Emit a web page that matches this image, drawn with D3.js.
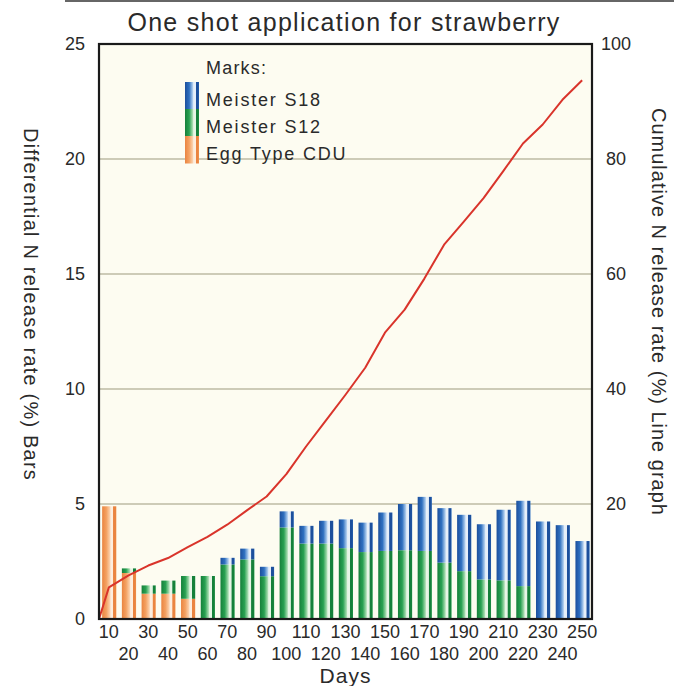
<!DOCTYPE html>
<html>
<head>
<meta charset="utf-8">
<script src="https://cdn.jsdelivr.net/npm/d3@7"></script>
<style>
  html, body { margin: 0; padding: 0; background: #ffffff; }
  svg { display: block; }
  text { font-family: "Liberation Sans", Arial, sans-serif; fill: #2a2a2a; }
</style>
</head>
<body>
<svg id="chart" width="674" height="686"></svg>
<script>
// ---- data ----
const days = [10,20,30,40,50,60,70,80,90,100,110,120,130,140,150,160,170,180,190,200,210,220,230,240,250];
const eggTypeCDU = [4.9,2.0,1.1,1.1,0.88,0,0,0,0,0,0,0,0,0,0,0,0,0,0,0,0,0,0,0,0];
const meisterS12 = [0,0.2,0.36,0.57,0.99,1.87,2.37,2.59,1.86,3.98,3.28,3.28,3.08,2.91,2.96,2.99,2.96,2.45,2.08,1.72,1.68,1.43,0,0,0];
const meisterS18 = [0,0,0,0,0,0,0.29,0.47,0.41,0.70,0.77,0.99,1.25,1.28,1.67,2.01,2.35,2.37,2.45,2.40,3.07,3.71,4.24,4.08,3.39];
const cumDays = [0,5,15,25,35,45,55,65,75,85,95,105,115,125,135,145,155,165,175,185,195,205,215,225,235,245];
const cumPct  = [0,5.5,7.6,9.3,10.6,12.5,14.3,16.4,18.9,21.3,25.2,30.0,34.5,39.0,43.7,49.8,53.8,59.2,65.1,69.1,73.2,77.9,82.7,86.0,90.3,93.7];
const leftTicks = [0,5,10,15,20,25];
const rightTicks = [20,40,60,80,100];
const gridTicks = [5,10,15,20];
const seriesNames = ["Egg Type CDU","Meister S12","Meister S18"];
const legendOrder = ["Meister S18","Meister S12","Egg Type CDU"];

const rows = days.map((d,i) => ({day: d, "Egg Type CDU": eggTypeCDU[i], "Meister S12": meisterS12[i], "Meister S18": meisterS18[i]}));

// ---- layout ----
const L = 99, R = 592, T = 44, B = 619;
const svg = d3.select("#chart");

const palette = {
  "Meister S18": {dark:"#1c4f9c", mid:"#2f70c0", light:"#a9c9ec", white:"#e6eff9"},
  "Meister S12": {dark:"#15803a", mid:"#29a152", light:"#a4dbad", white:"#e7f5e6"},
  "Egg Type CDU": {dark:"#ea8440", mid:"#f4a263", light:"#fbcfaa", white:"#fdeedf"}
};
const gid = n => "g_" + n.replace(/\W/g,"");
const defs = svg.append("defs");
seriesNames.forEach(n => {
  const c = palette[n];
  const g = defs.append("linearGradient").attr("id", gid(n)).attr("x1","0").attr("x2","1").attr("y1","0").attr("y2","0");
  [[0,c.dark],[0.3,c.mid],[0.54,c.light],[0.62,c.white],[0.76,c.white],[0.8,c.dark],[0.95,c.dark],[1,c.mid]]
    .forEach(([o,col]) => g.append("stop").attr("offset", o).attr("stop-color", col));
});

const xb = d3.scaleBand().domain(days).range([L, R]).padding(0);
const x = d3.scaleLinear().domain([0, 250]).range([L, R]);
const yL = d3.scaleLinear().domain([0, 25]).range([B, T]);
const yR = d3.scaleLinear().domain([0, 100]).range([B, T]);

// decorative top rule
svg.append("line").attr("x1", 65).attr("x2", 674).attr("y1", 1).attr("y2", 1)
  .attr("stroke", "#666").attr("stroke-width", 2);

// title
svg.append("text").attr("x", 344).attr("y", 31).attr("text-anchor","middle")
  .style("font-size","25px").style("letter-spacing","1.3px")
  .text("One shot application for strawberry");

// plot background
svg.append("rect").attr("x", L).attr("y", T).attr("width", R-L).attr("height", B-T).attr("fill", "#fdfcf1");

// grid
svg.append("g").selectAll("line").data(gridTicks).join("line")
  .attr("x1", L).attr("x2", R).attr("y1", d => yL(d)).attr("y2", d => yL(d))
  .attr("stroke", "#bdbba3").attr("stroke-width", 1.5);

// bars
const stack = d3.stack().keys(seriesNames)(rows);
const bw = xb.bandwidth();
svg.append("g").selectAll("g").data(stack).join("g")
  .attr("fill", s => `url(#${gid(s.key)})`)
  .selectAll("rect").data(s => s).join("rect")
  .attr("x", d => xb(d.data.day) + bw*0.16)
  .attr("width", bw*0.72)
  .attr("y", d => yL(d[1]))
  .attr("height", d => Math.max(0, yL(d[0]) - yL(d[1])));

// legend
const lg = svg.append("g");
lg.append("text").attr("x", 206).attr("y", 74).style("font-size","18px").style("letter-spacing","1.2px").text("Marks:");
const legY = d3.scaleBand().domain(legendOrder).range([82, 163]);
lg.selectAll("rect").data(legendOrder).join("rect")
  .attr("x", 185).attr("width", 14)
  .attr("y", d => legY(d)).attr("height", legY.bandwidth()+0.5)
  .attr("fill", d => `url(#${gid(d)})`);
lg.selectAll("text.item").data(legendOrder).join("text").attr("class","item")
  .attr("x", 206).attr("y", d => legY(d) + legY.bandwidth()/2 + 10)
  .style("font-size","18px").style("letter-spacing","1.8px").text(d => d);

// cumulative line
const line = d3.line().x((d,i) => x(cumDays[i])).y(d => yR(d));
svg.append("path").datum(cumPct).attr("d", line)
  .attr("fill","none").attr("stroke","#d9342b").attr("stroke-width", 2).attr("stroke-linejoin","round");

// frame
svg.append("rect").attr("x", L).attr("y", T).attr("width", R-L).attr("height", B-T)
  .attr("fill","none").attr("stroke","#1a1a1a").attr("stroke-width", 2.2);

// left axis
const axL = svg.append("g").attr("transform", `translate(${L},0)`)
  .call(d3.axisLeft(yL).tickValues(leftTicks).tickSize(0).tickPadding(14));
axL.select(".domain").remove();
axL.selectAll("text").style("font-size","18px").attr("fill","#2a2a2a").style("font-family","'Liberation Sans', Arial, sans-serif");

// right axis
const axR = svg.append("g").attr("transform", `translate(${R},0)`)
  .call(d3.axisRight(yR).tickValues(rightTicks).tickSize(0).tickPadding(0));
axR.select(".domain").remove();
axR.selectAll("text").attr("x", 24).attr("text-anchor","middle").style("font-size","18px").attr("fill","#2a2a2a").style("font-family","'Liberation Sans', Arial, sans-serif");

// bottom axis
const axB = svg.append("g").attr("transform", `translate(0,${B})`)
  .call(d3.axisBottom(xb).tickSize(0).tickPadding(0));
axB.select(".domain").remove();
axB.selectAll("text").attr("y", (d,i) => i % 2 === 0 ? 6 : 28).attr("dy","0.71em")
  .style("font-size","18px").attr("fill","#2a2a2a").style("font-family","'Liberation Sans', Arial, sans-serif");

svg.append("text").attr("x", (L+R)/2).attr("y", 683).attr("text-anchor","middle")
  .style("font-size","21px").style("letter-spacing","1px").text("Days");

// axis titles
svg.append("text").attr("transform", "translate(24,128) rotate(90)")
  .style("font-size","20px").style("letter-spacing","1.2px")
  .text("Differential N release rate (%) Bars");
svg.append("text").attr("transform", "translate(652,108) rotate(90)")
  .style("font-size","20px").style("letter-spacing","1px")
  .text("Cumulative N release rate (%) Line graph");
</script>
</body>
</html>
